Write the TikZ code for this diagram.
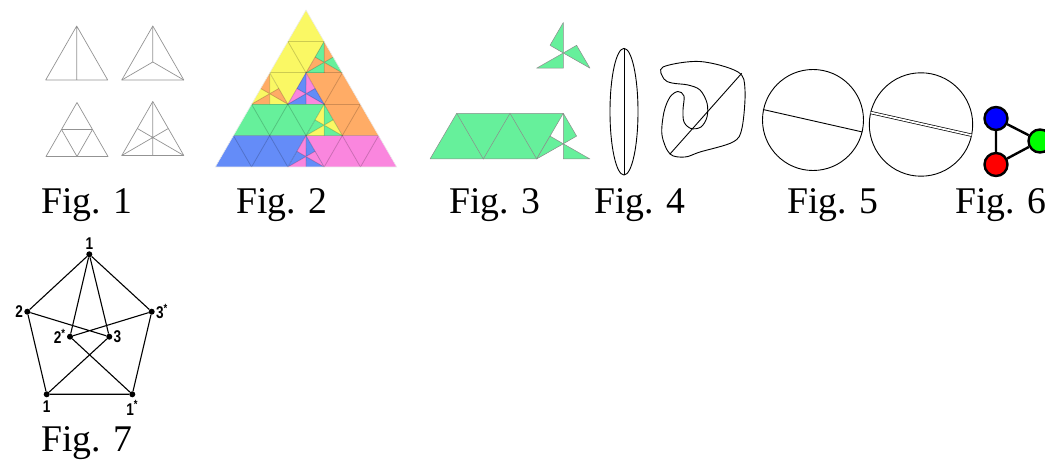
\documentclass[tikz,border=0pt]{standalone}
\usepackage{fontspec}
\setmainfont{Liberation Serif}
\newfontfamily\labfont{Liberation Sans}[FakeStretch=0.8]
\usetikzlibrary{calc}

\definecolor{pyellow}{RGB}{250,248,100}
\definecolor{porange}{RGB}{255,172,102}
\definecolor{pgreen}{RGB}{102,240,155}
\definecolor{pblue}{RGB}{100,140,248}
\definecolor{ppink}{RGB}{250,134,222}

\tikzset{
  sketch/.style={gray!85, line width=0.7pt, line join=round},
  lattice/.style={black, opacity=0.18, line width=0.8pt},
  piece/.style={fill=pgreen, draw=black!45, line width=0.5pt, line join=round},
  curve/.style={black, line width=0.9pt},
  caption/.style={anchor=base, font=\fontsize{37.7}{40}\selectfont},
  cnode/.style={circle, draw=black, line width=2.4pt, minimum size=23pt, inner sep=0pt},
  cedge/.style={line width=2.4pt},
  dot/.style={circle, fill=black, minimum size=6pt, inner sep=0pt},
  vlabel/.style={font=\labfont\bfseries\fontsize{17}{17}\selectfont, inner sep=1pt},
}

% pinwheel: apex, left, right, colour A, colour B
\newcommand{\pinwheel}[5]{%
  \fill[#5] (#1) -- (#2) -- (#3) -- cycle;
  \coordinate (pc) at (barycentric cs:#1=1,#2=1,#3=1);
  \fill[#4] (#1) -- ($(#1)!0.5!(#2)$) -- (pc) -- cycle;
  \fill[#4] (#2) -- ($(#2)!0.5!(#3)$) -- (pc) -- cycle;
  \fill[#4] (#3) -- ($(#3)!0.5!(#1)$) -- (pc) -- cycle;
  \draw[lattice] (#1) -- ($(#2)!0.5!(#3)$) (#2) -- ($(#3)!0.5!(#1)$) (#3) -- ($(#1)!0.5!(#2)$);
}

\begin{document}
\begin{tikzpicture}[x=1pt, y=-1pt]
    \useasboundingbox (0,0) rectangle (1045,462);

    % Fig. 1
    \begin{scope}[shift={(76.7,26)}]
      \draw[sketch] (0,0) -- (-31,54) -- (31,54) -- cycle (0,0) -- (0,54);
    \end{scope}
    \begin{scope}[shift={(152.8,26)}]
      \draw[sketch] (0,0) -- (-31,54) -- (31,54) -- cycle;
      \draw[sketch] (0,0) -- (0,36) (-31,54) -- (0,36) -- (31,54);
    \end{scope}
    \begin{scope}[shift={(77,102.5)}]
      \draw[sketch] (0,0) -- (-31,54) -- (31,54) -- cycle;
      \draw[sketch] (-15.5,27) -- (15.5,27) -- (0,54) -- cycle;
    \end{scope}
    \begin{scope}[shift={(152.8,101.5)}]
      \draw[sketch] (0,0) -- (-31,54) -- (31,54) -- cycle;
      \draw[sketch] (0,0) -- (0,54) (-31,54) -- (15.5,27) (31,54) -- (-15.5,27);
    \end{scope}

    % Fig. 2
    \foreach \j in {0,...,5}
      \foreach \i in {0,...,\j}
        \coordinate (p\i\j) at ({306+(\i-\j/2)*36.3},{10+\j*31.4});
    \fill[pyellow] (p00) -- (p11) -- (p12) -- (p13) -- (p02) -- cycle;
    \fill[porange] (p12) -- (p22) -- (p44) -- (p34) -- (p23) -- cycle;
    \fill[pgreen] (p03) -- (p23) -- (p24) -- (p04) -- cycle;
    \fill[pblue] (p04) -- (p24) -- (p25) -- (p05) -- cycle;
    \fill[ppink] (p24) -- (p44) -- (p55) -- (p35) -- cycle;
    \pinwheel{p11}{p12}{p22}{pgreen}{porange}
    \pinwheel{p02}{p03}{p13}{porange}{pyellow}
    \pinwheel{p12}{p13}{p23}{pblue}{ppink}
    \pinwheel{p23}{p24}{p34}{pyellow}{pgreen}
    \pinwheel{p24}{p25}{p35}{ppink}{pblue}
    \foreach \j in {1,...,4}{
      \draw[lattice] (p0\j) -- (p\j\j);
      \draw[lattice] (p\j\j) -- (p\j5);
      \pgfmathtruncatemacro{\k}{5-\j}
      \draw[lattice] (p0\j) -- (p\k5);
    }
    \draw[white!85!gray, line width=0.6pt] (p00) -- (p05) -- (p55) -- cycle;

    % Fig. 3
    \filldraw[piece] (430,159) -- (536.7,159) -- (563.3,113.3) -- (456.7,113.3) -- cycle;
    \draw[black!45, line width=0.5pt] (456.7,113.3) -- (483.3,159) -- (510,113.3) -- (536.7,159);
    \begin{scope}[shift={(563.3,113.3)}]
      \filldraw[piece] (13.3,22.8) -- (0,0) -- (0,30.5) -- cycle;
      \filldraw[piece] (-13.3,22.8) -- (-26.7,45.7) -- (0,30.5) -- cycle;
      \filldraw[piece] (0,45.7) -- (26.7,45.7) -- (0,30.5) -- cycle;
    \end{scope}
    \begin{scope}[shift={(563.3,22.5)}]
      \filldraw[piece] (0,0) -- (-13.3,22.8) -- (0,30.5) -- cycle;
      \filldraw[piece] (-26.7,45.7) -- (0,45.7) -- (0,30.5) -- cycle;
      \filldraw[piece] (26.7,45.7) -- (13.3,22.8) -- (0,30.5) -- cycle;
    \end{scope}

    % Fig. 4
    \draw[curve] (624,111.7) ellipse [x radius=14pt, y radius=63.3pt];
    \draw[curve] (624,48.4) -- (624,175);
    \draw[curve] plot[smooth cycle, tension=0.55] coordinates {
      (663,67) (700,61.5) (738,72) (745,90) (742,128) (733,142) (700,152)
      (685,157) (670,154) (662,135) (664,112) (670,97) (678,91.5) (684,96)
      (683,110) (684,122) (691,128.5) (701,127) (707,117) (707,103)
      (700,90) (688,85) (672,83) (664,79)};
    \draw[curve] (670,154) -- (741.7,73.3);

    % Fig. 5
    \draw[curve] (813,120) circle [radius=50.5pt];
    \draw[curve] (763,109.5) -- (862.5,132);
    \draw[curve] (921,124.5) circle [radius=51.7pt];
    \draw[black, line width=0.7pt, double=white, double distance=1.8pt] (870.5,112.5) -- (971.5,135.2);

    % Fig. 6
    \node[cnode, fill=blue] (nb) at (996,118.5) {};
    \node[cnode, fill=green] (ng) at (1040,141) {};
    \node[cnode, fill=red] (nr) at (996,164.5) {};
    \draw[cedge] (nb) -- (ng) (ng) -- (nr) (nr) -- (nb);

    % Fig. 7
    \begin{scope}[every label/.append style={vlabel}]
      \node[dot, label={above:1}] (t1) at (89.3,254.3) {};
      \node[dot, label={left:2}] (v2) at (27.3,311.7) {};
      \node[dot, label={right:3\textsuperscript{*}}] (v3s) at (151.7,311.7) {};
      \node[dot, label={left:2\textsuperscript{*}}] (v2s) at (70,336.7) {};
      \node[dot, label={right:3}] (v3) at (109.3,336.7) {};
      \node[dot, label={[label distance=2pt]below:1}] (b1) at (46.7,394.3) {};
      \node[dot, label={[label distance=2pt]below:1\textsuperscript{*}}] (b1s) at (132.3,394.3) {};
    \end{scope}
    \draw[line width=1.1pt] (t1) -- (v2) (t1) -- (v3s) (t1) -- (v2s) (t1) -- (v3)
      (v2) -- (v3) (v3s) -- (v2s) (v2) -- (b1) (v3s) -- (b1s)
      (b1) -- (b1s) (b1) -- (v3) (v2s) -- (b1s);

    % captions
    \node[caption] (c1) at (87,214) {Fig. 1};
    \node[caption] (c2) at (282,214) {Fig. 2};
    \node[caption] (c3) at (495,214) {Fig. 3};
    \node[caption] (c4) at (640,214) {Fig. 4};
    \node[caption] (c5) at (833,214) {Fig. 5};
    \node[caption] (c6) at (1001,214) {Fig. 6};
    \node[caption] (c7) at (87,451) {Fig. 7};
\end{tikzpicture}
\end{document}
